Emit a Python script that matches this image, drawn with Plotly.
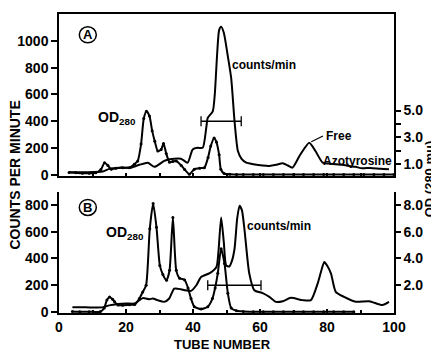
import plotly.graph_objects as go

FONT = "Liberation Sans Narrow, Arial Narrow, Liberation Sans, Arial, sans-serif"

# ---------------- Panel A ----------------
a_od_x = [3, 5, 7, 9, 11, 12.5, 13.6, 14.6, 15.6, 17, 19, 21, 22.5, 23.5, 24.5, 25.3, 26.1, 27,
          27.8, 28.6, 29.5, 30.5, 31.2, 32, 33, 34, 35, 36.5, 37.5, 38.9, 40.4, 42, 43.4, 44.5,
          45.3, 46.3, 47, 47.8, 48.3, 49.3, 51, 53, 55, 58, 61, 64, 67, 70, 73, 76, 79, 82, 85,
          88, 91, 94, 97, 100]
a_od_y = [0.38, 0.35, 0.32, 0.32, 0.35, 0.6, 1.11, 0.9, 0.62, 0.7, 0.74, 0.74, 1.0, 1.24, 2.5,
          4.4, 4.95, 4.6, 3.5, 2.7, 1.98, 2.1, 2.55, 1.8, 1.15, 1.2, 1.24, 0.9, 0.6, 0.25, 0.62,
          0.7, 0.74, 1.5, 2.35, 2.96, 2.65, 1.7, 0.62, 0.3, 0.25, 0.23, 0.22, 0.22, 0.22, 0.22,
          0.22, 0.22, 0.22, 0.22, 0.22, 0.22, 0.22, 0.22, 0.22, 0.22, 0.22, 0.22]

a_cpm_x = [3, 8, 13, 15, 18, 21.5, 24, 26.5, 28.5, 31.4, 33, 36.4, 38.4, 39.9, 41.4, 42.9, 44.0,
           44.4, 45.9, 46.5, 47.2, 47.8, 48.4, 49.2, 50.3, 51.4, 52.4, 53.4, 54.5, 55.9, 58, 60.8,
           62.8, 64.8, 66.8, 68.3, 69.7, 72, 74.7, 76.5, 78.7, 80.5, 82.6, 84.5, 86.6, 88.5, 90.5,
           93, 96, 98.5]
a_cpm_y = [20, 20, 25, 45, 54, 54, 75, 91, 60, 104, 116, 121, 91, 190, 202, 202, 360, 425, 474,
           600, 900, 1080, 1104, 1060, 900, 721, 400, 178, 120, 91, 80, 70, 67, 75, 87, 70, 54,
           150, 240, 180, 91, 85, 79, 75, 67, 60, 49, 52, 45, 42]

# ---------------- Panel B ----------------
b_od_x = [4, 6.2, 9, 12.3, 13.5, 14.3, 15.1, 16, 16.6, 17.6, 19, 21, 22.6, 24, 25, 26, 27.1, 28.1,
          29.1, 30.1, 31, 32.1, 33, 34, 35, 36, 37.5, 38.5, 39.4, 40.4, 42.4, 44.4, 45.8, 46.6,
          47.4, 48.4, 49.4, 50.4, 51.4, 53, 55, 58, 61, 64, 67, 70, 73, 76, 79, 82, 85, 88]
b_od_y = [0.05, 0.02, 0.03, 0.02, 0.3, 0.9, 1.13, 0.95, 0.76, 0.52, 0.5, 0.54, 0.56, 1.01, 1.5,
          2.0, 6.22, 8.1, 6.32, 3.48, 2.8, 2.37, 3.11, 7.06, 3.11, 2.52, 2.4, 1.8, 1.01, 0.4,
          0.22, 0.4, 1.01, 1.8, 2.89, 4.72, 3.63, 1.41, 0.3, 0.1, 0.05, 0.03, 0.02, 0.02, 0.02,
          0.02, 0.02, 0.02, 0.02, 0.02, 0.02, 0.02]

b_cpm_x = [4, 8, 13, 15, 17.6, 20, 22.6, 25, 27, 28, 29.4, 31.4, 32.9, 34.4, 36.4, 37.5, 39.4, 41,
           42.4, 45, 47, 47.6, 48.4, 49.2, 49.9, 50.8, 51.6, 52.4, 53.2, 53.9, 54.6, 55.4, 56.8,
           58.3, 60.8, 62.8, 64.8, 66.8, 69.2, 72.7, 75.2, 77.2, 78.2, 79.2, 80.2, 81.2, 82.6,
           85.1, 88.6, 92.6, 96.5, 98.5]
b_cpm_y = [35, 35, 35, 50, 60, 64, 64, 104, 95, 101, 89, 76, 101, 175, 170, 163, 158, 200, 262,
           290, 336, 450, 706, 520, 348, 340, 380, 472, 700, 793, 760, 608, 287, 163, 141, 113,
           76, 81, 106, 89, 89, 212, 300, 373, 340, 287, 151, 113, 77, 81, 52, 76]

# pooled fraction bars (tube range, level in counts/min)
pool_a_x = [42.4, 54.4]
pool_a_y = [400, 400]
pool_b_x = [44.4, 60.3]
pool_b_y = [200, 200]

# tick labels
a_left_ticks = [0, 200, 400, 600, 800, 1000]
b_left_ticks = [0, 200, 400, 600, 800]
a_right_ticks = [1, 3, 5]
a_right_text = ["1.0", "3.0", "5.0"]
a_right_minor = [2, 4]
b_right_ticks = [2, 4, 6, 8]
b_right_text = ["2.0", "4.0", "6.0", "8.0"]
x_ticks = [0, 20, 40, 60, 80, 100]

LW = 2
fig = go.Figure()


def curve(x, y, xa, ya, markers=False):
    fig.add_trace(go.Scatter(
        x=x, y=y, xaxis=xa, yaxis=ya,
        mode="lines+markers" if markers else "lines",
        line=dict(color="black", width=LW, shape="spline", smoothing=0.6),
        marker=dict(color="black", size=3),
        showlegend=False, hoverinfo="skip"))


curve(a_cpm_x, a_cpm_y, "x", "y")
curve(a_od_x, a_od_y, "x", "y2", markers=True)
curve(b_cpm_x, b_cpm_y, "x2", "y3")
curve(b_od_x, b_od_y, "x2", "y4", markers=True)

for px_, py_, xa, ya in [(pool_a_x, pool_a_y, "x", "y"), (pool_b_x, pool_b_y, "x2", "y3")]:
    fig.add_trace(go.Scatter(
        x=px_, y=py_, xaxis=xa, yaxis=ya, mode="lines+markers",
        line=dict(color="black", width=1.3),
        marker=dict(symbol="line-ns-open", size=7, line=dict(color="black", width=1.3)),
        showlegend=False, hoverinfo="skip"))

tf = dict(family=FONT, size=14, color="black", weight="bold")
axis_common = dict(showgrid=False, zeroline=False, showline=True, linecolor="black",
                   linewidth=1.5, tickcolor="black", tickwidth=1.5, tickfont=tf)

# domains
A_DOM = [0.457, 1.0]
B_DOM = [0.0, 0.405]

# the page body adds an 8px offset; the figure is sized to fill the rest of the window
fig.update_layout(
    width=431, height=345,
    margin=dict(l=51, r=45, t=4, b=40),
    paper_bgcolor="white", plot_bgcolor="white",
    xaxis=dict(domain=[0, 1], anchor="y", range=[0, 100], mirror=True,
               ticks="inside", dtick=10, ticklen=4, showticklabels=False, **axis_common),
    yaxis=dict(domain=A_DOM, anchor="x", range=[-11, 1200], tickvals=a_left_ticks,
               ticks="outside", ticklen=6, **axis_common),
    yaxis2=dict(overlaying="y", side="right", anchor="x", range=[0.09, 12.2],
                tickvals=a_right_ticks, ticktext=a_right_text, ticks="outside", ticklen=5,
                minor=dict(tickvals=a_right_minor, ticks="outside", ticklen=5,
                           tickcolor="black", tickwidth=1.5),
                **axis_common),
    xaxis2=dict(domain=[0, 1], anchor="y3", range=[0, 100], tickvals=x_ticks,
                ticks="inside", ticklen=4,
                minor=dict(dtick=10, ticks="inside", ticklen=3, tickcolor="black"),
                **axis_common),
    yaxis3=dict(domain=B_DOM, anchor="x2", range=[-7, 896], tickvals=b_left_ticks,
                ticks="outside", ticklen=6, **axis_common),
    yaxis4=dict(overlaying="y3", side="right", anchor="x2", range=[-0.07, 8.96],
                tickvals=b_right_ticks, ticktext=b_right_text, ticks="outside", ticklen=5,
                **axis_common),
)

lab = dict(family=FONT, color="black", weight="bold")
ann = []
# circled panel letters
for letter, xa, ya, yv in [("A", "x", "y", 1045), ("B", "x2", "y3", 780)]:
    ann.append(dict(x=8.6, y=yv, xref=xa, yref=ya, text=letter, showarrow=False,
                    font=dict(size=13, **lab)))
    fig.add_shape(type="circle", xref=xa, yref=ya, xsizemode="pixel", ysizemode="pixel",
                  xanchor=8.6, yanchor=yv, x0=-8.5, x1=8.5, y0=-8, y1=8,
                  line=dict(color="black", width=1.5))
ann += [
    dict(x=17.3, y=422, xref="x", yref="y", text="OD<sub>280</sub>", showarrow=False,
         font=dict(size=14, **lab)),
    dict(x=19.6, y=593, xref="x2", yref="y3", text="OD<sub>280</sub>", showarrow=False,
         font=dict(size=14, **lab)),
    dict(x=61.3, y=822, xref="x", yref="y", text="counts/min", showarrow=False,
         font=dict(size=12, **lab)),
    dict(x=65.8, y=645, xref="x2", yref="y3", text="counts/min", showarrow=False,
         font=dict(size=12, **lab)),
    dict(x=79.0, y=292, xref="x", yref="y", text="Free", showarrow=False, xanchor="left",
         font=dict(size=12, **lab)),
    dict(x=78.2, y=104, xref="x", yref="y", text="Azotyrosine", showarrow=False,
         xanchor="left", font=dict(size=12, **lab)),
    dict(x=-0.131, y=0.46, xref="paper", yref="paper", xanchor="center", yanchor="middle",
         text="COUNTS PER MINUTE", showarrow=False, textangle=-90, font=dict(size=14, **lab)),
    dict(x=1.107, y=0.45, xref="paper", yref="paper", xanchor="center", yanchor="middle",
         text="OD (280 mμ)", showarrow=False, textangle=-90, font=dict(size=13, **lab)),
    dict(x=0.487, y=-0.107, xref="paper", yref="paper", xanchor="center", yanchor="middle",
         text="TUBE NUMBER", showarrow=False, font=dict(size=13, **lab)),
]
fig.update_layout(annotations=ann)
fig.add_shape(type="line", xref="x", yref="y", x0=75.3, y0=247, x1=78.8, y1=290,
              line=dict(color="black", width=1.2))

fig.write_html("out.html")
